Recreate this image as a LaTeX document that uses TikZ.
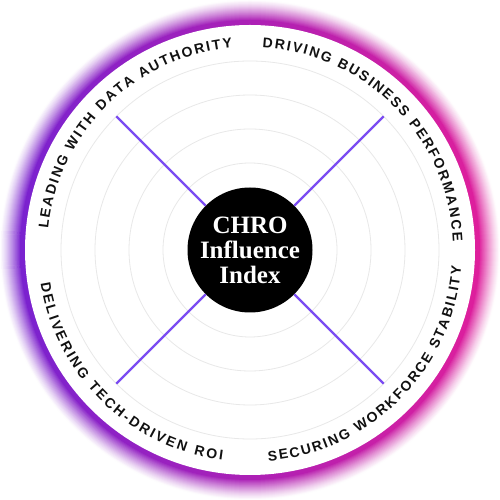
\documentclass[tikz,border=0pt]{standalone}
\usepackage{fontspec}
\setmainfont{Liberation Serif}
\setsansfont{Liberation Sans}
\usetikzlibrary{decorations.text}
\definecolor{violetL}{HTML}{7A22CF}
\definecolor{magentaR}{HTML}{DE1F9C}
\definecolor{spokeV}{HTML}{7B4CF2}
\definecolor{gridG}{HTML}{E8E8E8}
\definecolor{inkK}{HTML}{111111}

\begin{document}
\begin{tikzpicture}[
  x=1pt, y=1pt,
  glowband/.style={left color=violetL!#1!white, right color=magentaR!#1!white},
  gridring/.style={draw=gridG, line width=0.8pt},
  spoke/.style={draw=spokeV, line width=2.3pt},
  hub/.style={
    circle, fill=black, text=white,
    minimum size=125pt, inner sep=0pt,
    align=center, font=\bfseries\fontsize{25}{25}\selectfont
  },
  arclabel/.style={
    decorate,
    decoration={text along path,
      text={|\sffamily\bfseries\fontsize{14}{14}\selectfont|#1},
      text color=inkK, text align=fit to path}
  }
]
\useasboundingbox (0,0) rectangle (500,500);
\fill[white] (0,0) rectangle (500,500);

%% ═══ RING ═══
\coordinate (c) at (250,250);
% soft glow: stacked discs, paler towards the outside
\foreach \k in {24,...,0}{
  \pgfmathsetmacro{\rr}{226+\k}
  \pgfmathtruncatemacro{\mix}{\k<5 ? 100 : 100*(1-(\k-4)/21)^1.3}
  \shade[glowband=\mix] (c) circle (\rr);
}
\fill[white] (c) circle (225);
\foreach \r in {87,121,155,189}
  \draw[gridring] (c) circle (\r);

%% ═══ SPOKES ═══
\path (c) ++(135:189) coordinate (lead);
\path (c) ++(45:189)  coordinate (drive);
\path (c) ++(-45:189) coordinate (secure);
\path (c) ++(-135:189) coordinate (deliver);

\node[hub] (hub) at (c) {CHRO\\Influence\\Index};
\draw[spoke] (hub) -- (lead);
\draw[spoke] (hub) -- (drive);
\draw[spoke] (hub) -- (secure);
\draw[spoke] (hub) -- (deliver);

%% ═══ LABELS ═══
\path[arclabel={LEADING WITH DATA AUTHORITY}]
  (c) ++(174:203) arc[start angle=174, end angle=95, radius=203];
\path[arclabel={DRIVING BUSINESS PERFORMANCE}]
  (c) ++(86.5:203) arc[start angle=86.5, end angle=2.5, radius=203];
\path[arclabel={SECURING WORKFORCE STABILITY}]
  (c) ++(-85:212) arc[start angle=-85, end angle=-4.5, radius=212];
\path[arclabel={DELIVERING TECH-DRIVEN ROI}]
  (c) ++(-171:212) arc[start angle=-171, end angle=-97.5, radius=212];

\end{tikzpicture}
\end{document}
